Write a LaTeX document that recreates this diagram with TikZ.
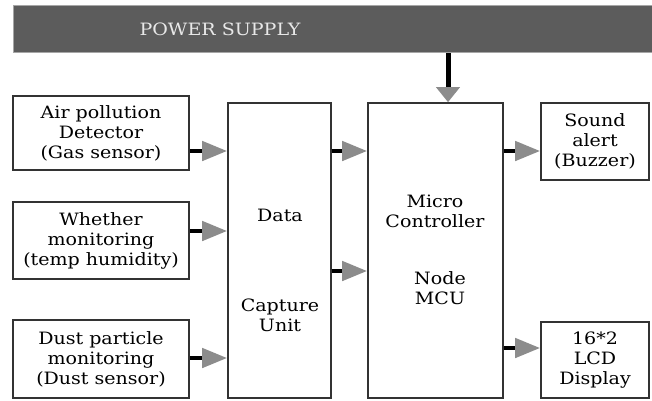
\documentclass[tikz,border=0pt]{standalone}
\usepackage{fontspec}
\setmainfont{DejaVu Serif}[FakeStretch=1.12]
\usetikzlibrary{arrows.meta}
\definecolor{bargray}{HTML}{5C5C5C}
\definecolor{tipgray}{HTML}{8C8C8C}
\definecolor{boxline}{HTML}{333333}
\definecolor{bartext}{HTML}{E8E8E8}
\tikzset{
  blk/.style={draw=boxline, line width=1.6pt, fill=white, inner sep=0pt, align=center,
    font=\fontsize{17}{20}\selectfont},
  txt/.style={inner sep=0pt, align=center, font=\fontsize{17}{20}\selectfont},
  arr/.style={line width=4.5pt, -{Triangle[length=25pt,width=19pt,color=tipgray]}},
  parr/.style={line width=5pt, -{Triangle[length=15pt,width=23pt,color=tipgray]}}
}
\begin{document}
\begin{tikzpicture}[x=1pt,y=-1pt]
\useasboundingbox (0,0) rectangle (652,400);
\fill[white] (0,0) rectangle (652,400);
% power supply bar
\node[fill=bargray, draw=gray!70, line width=0.8pt, minimum width=640pt, minimum height=47pt, inner sep=0pt, anchor=north west] (ps) at (13,5) {};
\node[txt, text=bartext] (pst) at (220,29) {POWER SUPPLY};
% left blocks
\node[blk, minimum width=176pt, minimum height=74pt] (a1) at (101,133) {Air pollution\\Detector\\(Gas sensor)};
\node[blk, minimum width=176pt, minimum height=77pt] (a2) at (101,240.5) {Whether\\monitoring\\(temp humidity)};
\node[blk, minimum width=176pt, minimum height=78pt] (a3) at (101,359) {Dust particle\\monitoring\\(Dust sensor)};
% data capture unit
\node[blk, minimum width=103pt, minimum height=295pt] (dcu) at (279.5,250.5) {};
\node[txt] (dcu1) at (280,215) {Data};
\node[txt] (dcu2) at (280,315) {Capture\\Unit};
% micro controller
\node[blk, minimum width=135pt, minimum height=295pt] (mcu) at (435.5,250.5) {};
\node[txt] (mcu1) at (435,211) {Micro\\Controller};
\node[txt] (mcu2) at (440,288.5) {Node\\MCU};
% outputs
\node[blk, minimum width=108pt, minimum height=77pt] (snd) at (595,141.5) {Sound\\alert\\(Buzzer)};
\node[blk, minimum width=108pt, minimum height=76pt] (lcd) at (595,360) {16*2\\LCD\\Display};
% connectors
\draw[arr] (a1.east |- 0,151) -- (dcu.west |- 0,151);
\draw[arr] (a2.east |- 0,231) -- (dcu.west |- 0,231);
\draw[arr] (a3.east |- 0,358) -- (dcu.west |- 0,358);
\draw[arr] (dcu.east |- 0,151) -- (mcu.west |- 0,151);
\draw[arr] (dcu.east |- 0,271) -- (mcu.west |- 0,271);
\draw[arr] (mcu.east |- 0,151) -- (snd.west |- 0,151);
\draw[arr] (mcu.east |- 0,348) -- (lcd.west |- 0,348);
\draw[parr] (ps.south -| 448,0) -- (mcu.north -| 448,0);
\end{tikzpicture}
\end{document}
